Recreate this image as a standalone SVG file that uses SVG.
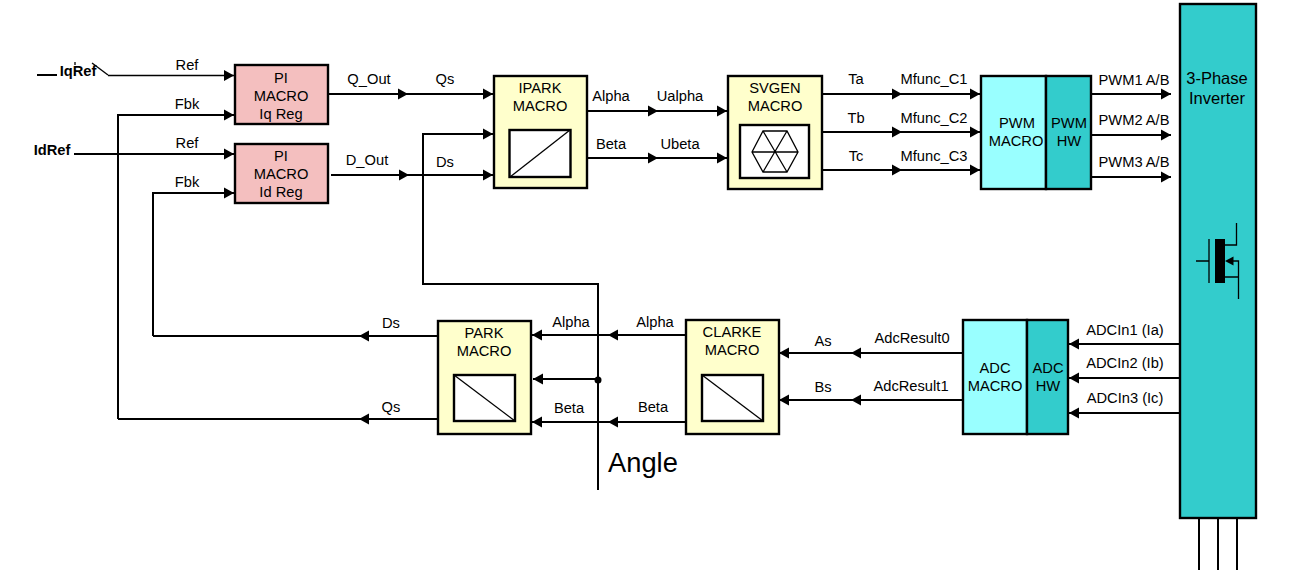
<svg xmlns="http://www.w3.org/2000/svg" width="1305" height="570" viewBox="0 0 1305 570">
<style>
text{font-family:"Liberation Sans",Arial,sans-serif;font-size:14.700px;fill:#000;text-anchor:middle}
.box{stroke:#000;stroke-width:2.400}
.pi{fill:#F4BFBF}.mac{fill:#FFFFCC}.cy{fill:#99FFFF}.te{fill:#33CCCC}.wh{fill:#fff}
.w{fill:none;stroke:#000;stroke-width:2}
.a{fill:none;stroke:#000;stroke-width:2;marker-end:url(#arr)}
.t{fill:none;stroke:#000;stroke-width:1.300}
.b{font-weight:bold}
</style>
<defs>
<marker id="arr" markerUnits="userSpaceOnUse" markerWidth="11" markerHeight="12" refX="10" refY="6" orient="auto"><path d="M0 .5L10 6L0 11.500z" fill="#000"/></marker>
</defs>
<g id="connectors">
<path class="w" d="M37 75H57"/>
<path class="t" d="M92 63L108 75"/>
<path class="t" d="M75 62V65"/>
<path class="a" d="M108 75.500H234" style="stroke-width:1.300"/>
<path class="a" d="M118 419V115H234"/>
<path class="a" d="M74 154H234"/>
<path class="a" d="M153 336V193H234"/>
<path class="a" d="M328 94H408"/><path class="a" d="M408 94H493"/>
<path class="a" d="M331 175H409"/><path class="a" d="M409 175H493"/>
<path class="a" d="M598 490V284H423V134H493"/>
<path class="a" d="M587 111H658"/><path class="a" d="M658 111H727"/>
<path class="a" d="M587 158H658"/><path class="a" d="M658 158H727"/>
<path class="a" d="M822 94H902"/><path class="a" d="M902 94H980"/>
<path class="a" d="M822 132H902"/><path class="a" d="M902 132H980"/>
<path class="a" d="M822 170H902"/><path class="a" d="M902 170H980"/>
<path class="a" d="M1091 94H1171"/>
<path class="a" d="M1091 135H1171"/>
<path class="a" d="M1091 177H1171"/>
<path class="a" d="M1180 344H1069"/>
<path class="a" d="M1180 378H1069"/>
<path class="a" d="M1180 413H1069"/>
<path class="a" d="M963 353H851"/><path class="a" d="M851 353H779"/>
<path class="a" d="M963 400H851"/><path class="a" d="M851 400H779"/>
<path class="a" d="M686 335H608"/><path class="a" d="M608 335H532"/>
<path class="a" d="M686 422H608"/><path class="a" d="M608 422H532"/>
<path class="a" d="M598 379H533"/>
<circle cx="598" cy="380" r="3.500" fill="#000"/>
<path class="a" d="M438 336H359"/><path class="w" d="M359 336H153"/>
<path class="a" d="M438 419H359"/><path class="w" d="M359 419H118"/>
<path class="w" d="M1199 518V570M1218 518V570M1237 518V570"/>
<text class="b" x="78" y="76">IqRef</text>
<text class="b" x="52" y="155">IdRef</text>
<text x="187" y="70">Ref</text><text x="187" y="109">Fbk</text>
<text x="187" y="148">Ref</text><text x="187" y="187">Fbk</text>
<text x="369" y="84">Q_Out</text><text x="445" y="84">Qs</text>
<text x="367" y="165">D_Out</text><text x="445" y="167">Ds</text>
<text x="611" y="101">Alpha</text><text x="680" y="101">Ualpha</text>
<text x="611" y="149">Beta</text><text x="680" y="149">Ubeta</text>
<text x="856" y="84">Ta</text><text x="934" y="84">Mfunc_C1</text>
<text x="856" y="123">Tb</text><text x="934" y="123">Mfunc_C2</text>
<text x="856" y="161">Tc</text><text x="934" y="161">Mfunc_C3</text>
<text x="1134" y="85">PWM1 A/B</text><text x="1134" y="125">PWM2 A/B</text><text x="1134" y="167">PWM3 A/B</text>
<text x="1125" y="335">ADCIn1 (Ia)</text><text x="1125" y="368">ADCIn2 (Ib)</text><text x="1125" y="403">ADCIn3 (Ic)</text>
<text x="912" y="343">AdcResult0</text><text x="911" y="391">AdcResult1</text>
<text x="823" y="346">As</text><text x="823" y="392">Bs</text>
<text x="655" y="327">Alpha</text><text x="571" y="327">Alpha</text>
<text x="653" y="412">Beta</text><text x="569" y="413">Beta</text>
<text x="391" y="328">Ds</text><text x="391" y="412">Qs</text>
<text x="608" y="472" style="font-size:27.300px;text-anchor:start">Angle</text>
</g>
<g id="pi-iq"><rect class="box pi" x="235" y="65" width="93" height="59"/><text x="281" y="83">PI</text><text x="281" y="101">MACRO</text><text x="281" y="119">Iq Reg</text></g>
<g id="pi-id"><rect class="box pi" x="235" y="144" width="93" height="59"/><text x="281" y="161">PI</text><text x="281" y="179">MACRO</text><text x="281" y="197">Id Reg</text></g>
<g id="ipark"><rect class="box mac" x="494" y="76" width="93" height="112"/><text x="540" y="93">IPARK</text><text x="540" y="111">MACRO</text><rect class="box wh" x="509.500" y="130" width="61" height="47"/><path class="t" d="M510 177L570 130"/></g>
<g id="svgen"><rect class="box mac" x="728" y="76" width="94" height="113"/><text x="775" y="93">SVGEN</text><text x="775" y="111">MACRO</text><rect class="box wh" x="740" y="125" width="69" height="53"/><path class="t" d="M752 152L763 131H787L798 152L787 172H763zM752 152H798M763 131L787 172M787 131L763 172"/></g>
<g id="pwm"><rect class="box cy" x="981" y="76" width="65" height="113"/><rect class="box te" x="1046" y="76" width="45" height="113"/><text x="1017" y="128">PWM</text><text x="1016" y="146">MACRO</text><text x="1069" y="128">PWM</text><text x="1069" y="146">HW</text></g>
<g id="inverter"><rect class="box te" x="1180" y="4" width="76" height="514"/><text x="1217" y="84" style="font-size:16.500px">3-Phase</text><text x="1217" y="104" style="font-size:16.500px">Inverter</text>
<rect x="1215" y="239" width="10" height="44" fill="#000"/><path class="t" d="M1196 261H1209M1209 239V283M1225 245H1236.500V223M1225 277H1238.500M1238.500 299V261H1233"/><path d="M1225 261L1233.500 256.500V265.500z" fill="#000"/></g>
<g id="adc"><rect class="box cy" x="963" y="320" width="64" height="114"/><rect class="box te" x="1027" y="320" width="41" height="114"/><text x="995" y="373">ADC</text><text x="995" y="391">MACRO</text><text x="1048" y="373">ADC</text><text x="1048" y="391">HW</text></g>
<g id="clarke"><rect class="box mac" x="686" y="320" width="93" height="114"/><text x="732" y="337">CLARKE</text><text x="732" y="355">MACRO</text><rect class="box wh" x="702" y="375" width="61" height="46"/><path class="t" d="M702 375L763 421"/></g>
<g id="park"><rect class="box mac" x="438" y="321" width="93" height="113"/><text x="484" y="338">PARK</text><text x="484" y="356">MACRO</text><rect class="box wh" x="454" y="375" width="61" height="46"/><path class="t" d="M454 375L515 421"/></g>
</svg>
